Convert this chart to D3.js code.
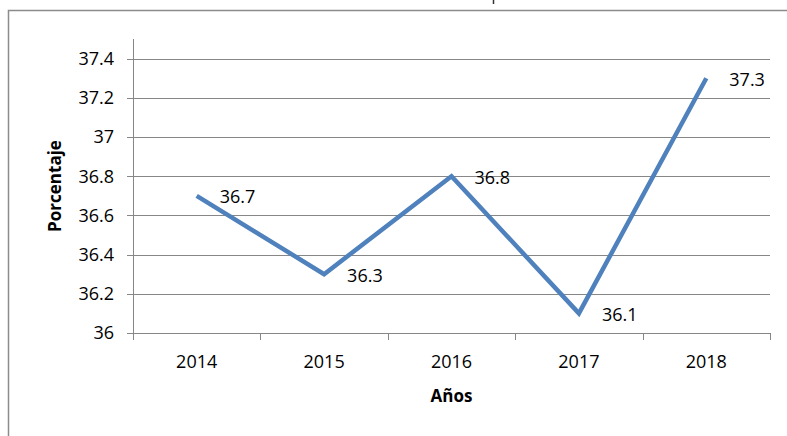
<!DOCTYPE html>
<html>
<head>
<meta charset="utf-8">
<script src="https://cdn.jsdelivr.net/npm/d3@7"></script>
<style>
  html, body { margin: 0; padding: 0; background: #fff; }
  svg { display: block; }
  text { font-family: "Open Sans", sans-serif; fill: #000; }
</style>
</head>
<body>
<div id="chart"></div>
<script>
const years = ["2014", "2015", "2016", "2017", "2018"];
const values = [36.7, 36.3, 36.8, 36.1, 37.3];
const yTicks = [36, 36.2, 36.4, 36.6, 36.8, 37, 37.2, 37.4];

const COLORS = {
  line: "#4f81bd",
  grid: "#878787",
  frame: "#8c8c8c",
};

const width = 787;
const height = 436;

const svg = d3
  .select("#chart")
  .append("svg")
  .attr("width", width)
  .attr("height", height);

// outer chart frame (runs off the right and bottom edges)
svg
  .append("rect")
  .attr("x", 8.5)
  .attr("y", 10.5)
  .attr("width", 800)
  .attr("height", 450)
  .attr("fill", "none")
  .attr("stroke", COLORS.frame)
  .attr("stroke-width", 1.5);

// tail of the cropped-off title showing at the very top
svg
  .append("line")
  .attr("x1", 493.5)
  .attr("x2", 493.5)
  .attr("y1", 0)
  .attr("y2", 4)
  .attr("stroke", "#333")
  .attr("stroke-width", 1.5);

const x = d3.scaleBand().domain(years).range([133, 770]);
const y = d3.scaleLinear().domain([36, 37.5]).range([333, 39]);

// gridlines + y ticks
svg
  .append("g")
  .selectAll("line")
  .data(yTicks)
  .join("line")
  .attr("x1", 127)
  .attr("x2", 770)
  .attr("y1", (d) => Math.round(y(d)) + 0.5)
  .attr("y2", (d) => Math.round(y(d)) + 0.5)
  .attr("stroke", COLORS.grid)
  .attr("stroke-width", 1);

// y axis line
svg
  .append("line")
  .attr("x1", 133.5)
  .attr("x2", 133.5)
  .attr("y1", y(37.5))
  .attr("y2", y(36))
  .attr("stroke", COLORS.grid);

// x axis ticks at category boundaries
const bounds = years.map((d) => x(d)).concat([x.range()[1]]);
svg
  .append("g")
  .selectAll("line")
  .data(bounds)
  .join("line")
  .attr("x1", (d) => Math.round(d) + 0.5)
  .attr("x2", (d) => Math.round(d) + 0.5)
  .attr("y1", Math.round(y(36)))
  .attr("y2", Math.round(y(36)) + 7)
  .attr("stroke", COLORS.grid);

// y tick labels
svg
  .append("g")
  .selectAll("text")
  .data(yTicks)
  .join("text")
  .attr("x", 114)
  .attr("y", (d) => y(d))
  .attr("dy", "0.35em")
  .attr("text-anchor", "end")
  .style("font-size", "18px")
  .text((d) => +d.toFixed(1));

// x tick labels
svg
  .append("g")
  .selectAll("text")
  .data(years)
  .join("text")
  .attr("x", (d) => x(d) + x.bandwidth() / 2)
  .attr("y", 368)
  .attr("text-anchor", "middle")
  .style("font-size", "18px")
  .text((d) => d);

// axis titles
svg
  .append("text")
  .attr("x", (x.range()[0] + x.range()[1]) / 2)
  .attr("y", 402)
  .attr("text-anchor", "middle")
  .style("font-size", "17px")
  .style("font-weight", "bold")
  .text("Años");

svg
  .append("text")
  .attr("transform", `translate(61,${(y(37.5) + y(36)) / 2}) rotate(-90)`)
  .attr("text-anchor", "middle")
  .style("font-size", "17px")
  .style("font-weight", "bold")
  .text("Porcentaje");

// the series line
const pts = years.map((d, i) => ({ year: d, value: values[i] }));
const line = d3
  .line()
  .x((d) => x(d.year) + x.bandwidth() / 2)
  .y((d) => y(d.value));

svg
  .append("path")
  .datum(pts)
  .attr("d", line)
  .attr("fill", "none")
  .attr("stroke", COLORS.line)
  .attr("stroke-width", 4.5)
  .attr("stroke-linejoin", "miter");

// data labels to the right of each point
svg
  .append("g")
  .selectAll("text")
  .data(pts)
  .join("text")
  .attr("x", (d) => x(d.year) + x.bandwidth() / 2 + 23)
  .attr("y", (d) => y(d.value) + 1)
  .attr("dy", "0.35em")
  .style("font-size", "18px")
  .text((d) => d.value);
</script>
</body>
</html>
